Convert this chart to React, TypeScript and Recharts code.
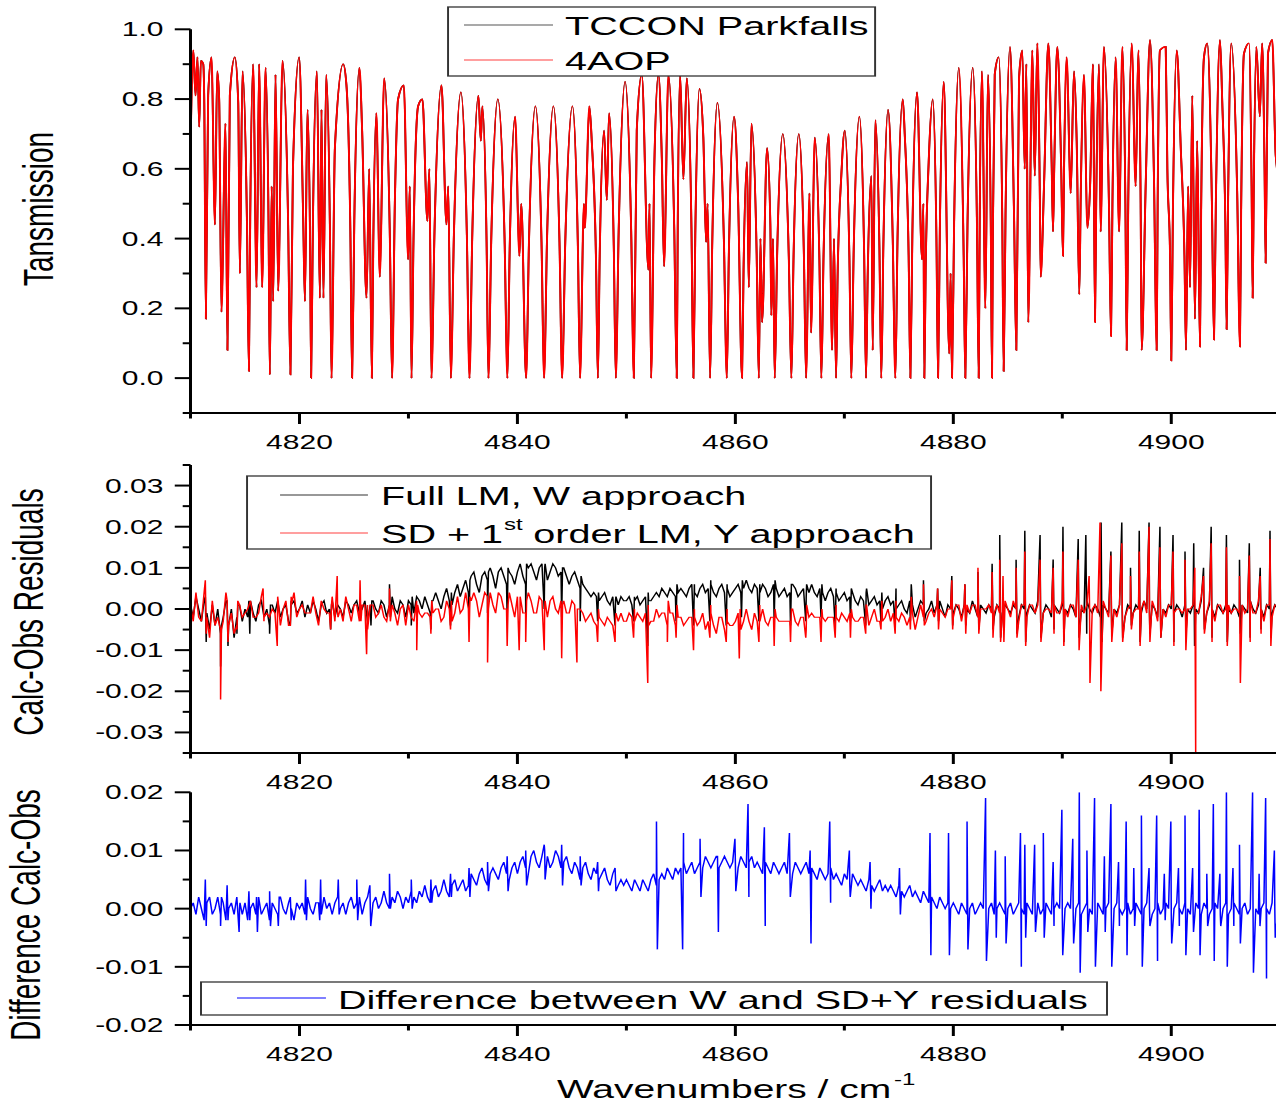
import React from 'react';
import { LineChart, Line, XAxis, YAxis } from 'recharts';

// The figure is laid out in an unstretched coordinate frame and widened
// horizontally as a whole, which keeps text, ticks and strokes consistent.
const STRETCH = 1.5;
const FRAME_W = 860;
const FRAME_H = 1104;
const AXIS_W = 127;
const RIGHT_PAD = 6.5;
const FONT = 'Liberation Sans, Arial, Helvetica, sans-serif';

// Wavenumber axis (cm-1), shared by all three panels
const WN_DOMAIN: [number, number] = [4810, 4910];
const WN_TICKS = [4810, 4820, 4830, 4840, 4850, 4860, 4870, 4880, 4890, 4900, 4910];
const WN_LABELED = [4820, 4840, 4860, 4880, 4900];

// Transmission panel axis
const TRANS_DOMAIN: [number, number] = [-0.1, 1.0];
const TRANS_TICKS = [-0.1, 0, 0.1, 0.2, 0.3, 0.4, 0.5, 0.6, 0.7, 0.8, 0.9, 1.0];
const TRANS_LABELED = [0, 0.2, 0.4, 0.6, 0.8, 1.0];

// Residual panel axis
const RES_DOMAIN: [number, number] = [-0.035, 0.035];
const RES_TICKS = [-0.035, -0.03, -0.025, -0.02, -0.015, -0.01, -0.005, 0, 0.005, 0.01, 0.015, 0.02, 0.025, 0.03, 0.035];
const RES_LABELED = [-0.03, -0.02, -0.01, 0, 0.01, 0.02, 0.03];

// Difference panel axis
const DIFF_DOMAIN: [number, number] = [-0.02, 0.02];
const DIFF_TICKS = [-0.02, -0.015, -0.01, -0.005, 0, 0.005, 0.01, 0.015, 0.02];
const DIFF_LABELED = [-0.02, -0.01, 0, 0.01, 0.02];

// 4AOP calculated transmission: [wavenumber, transmission]
const AOP_TRANS: [number, number][] = [
  [4810.00, 0.66], [4810.26, 0.94], [4810.46, 0.81], [4810.64, 0.92], [4810.80, 0.72], [4810.95, 0.91],
  [4811.17, 0.90], [4811.26, 0.80], [4811.41, 0.17], [4811.62, 0.81], [4811.93, 0.92], [4812.24, 0.44],
  [4812.45, 0.88], [4812.63, 0.80], [4812.84, 0.19], [4813.21, 0.73], [4813.39, 0.08], [4813.61, 0.81],
  [4814.07, 0.92], [4814.38, 0.79], [4814.53, 0.30], [4814.77, 0.88], [4815.18, 0.45], [4815.36, 0.02],
  [4815.48, 0.46], [4815.75, 0.90], [4816.06, 0.26], [4816.30, 0.90], [4816.58, 0.26], [4816.88, 0.89],
  [4817.16, 0.45], [4817.28, 0.01], [4817.45, 0.55], [4817.59, 0.22], [4817.80, 0.87], [4818.05, 0.25],
  [4818.44, 0.91], [4818.95, 0.46], [4819.17, 0.01], [4819.40, 0.60], [4819.97, 0.92], [4820.34, 0.46],
  [4820.50, 0.22], [4820.73, 0.77], [4820.97, 0.40], [4821.07, 0.00], [4821.23, 0.44], [4821.60, 0.88],
  [4821.87, 0.23], [4822.02, 0.77], [4822.20, 0.23], [4822.45, 0.87], [4822.79, 0.44], [4822.94, 0.00],
  [4823.25, 0.66], [4824.01, 0.90], [4824.31, 0.84], [4824.67, 0.42], [4824.83, 0.00], [4825.03, 0.45],
  [4825.50, 0.89], [4825.75, 0.71], [4826.15, 0.23], [4826.40, 0.60], [4826.64, 0.00], [4826.77, 0.38],
  [4827.06, 0.76], [4827.37, 0.29], [4827.77, 0.86], [4828.28, 0.43], [4828.50, 0.00], [4828.75, 0.50],
  [4829.05, 0.80], [4829.58, 0.84], [4829.97, 0.34], [4830.12, 0.55], [4830.28, 0.00], [4830.46, 0.39],
  [4830.89, 0.78], [4831.28, 0.80], [4831.74, 0.45], [4831.92, 0.60], [4832.11, 0.00], [4832.39, 0.42],
  [4833.03, 0.84], [4833.49, 0.44], [4833.65, 0.55], [4833.89, 0.00], [4834.17, 0.41], [4834.81, 0.82],
  [4835.36, 0.41], [4835.60, 0.00], [4835.85, 0.40], [4836.42, 0.81], [4836.64, 0.68], [4836.78, 0.78],
  [4837.17, 0.39], [4837.34, 0.00], [4837.60, 0.40], [4838.20, 0.80], [4838.82, 0.40], [4839.08, 0.00],
  [4839.29, 0.37], [4839.79, 0.75], [4840.18, 0.35], [4840.35, 0.50], [4840.80, 0.00], [4841.06, 0.39],
  [4841.65, 0.78], [4842.21, 0.39], [4842.45, 0.00], [4842.71, 0.39], [4843.30, 0.78], [4843.86, 0.39],
  [4844.10, 0.00], [4844.39, 0.39], [4845.05, 0.78], [4845.54, 0.39], [4845.75, 0.00], [4846.10, 0.50],
  [4846.18, 0.43], [4846.60, 0.78], [4846.82, 0.68], [4847.21, 0.34], [4847.38, 0.00], [4847.55, 0.35],
  [4847.95, 0.71], [4848.20, 0.51], [4848.41, 0.76], [4848.84, 0.38], [4849.03, 0.00], [4849.29, 0.42],
  [4849.88, 0.85], [4850.44, 0.42], [4850.68, 0.00], [4850.95, 0.71], [4851.41, 0.87], [4852.02, 0.31],
  [4852.12, 0.50], [4852.27, 0.00], [4852.57, 0.62], [4852.94, 0.87], [4853.25, 0.63], [4853.46, 0.32],
  [4853.85, 0.87], [4854.39, 0.43], [4854.62, 0.00], [4854.71, 0.43], [4854.93, 0.87], [4855.23, 0.57],
  [4855.54, 0.86], [4855.97, 0.43], [4856.15, 0.00], [4856.32, 0.41], [4856.70, 0.83], [4857.06, 0.69],
  [4857.31, 0.39], [4857.45, 0.50], [4857.68, 0.00], [4857.88, 0.39], [4858.35, 0.79], [4858.95, 0.39],
  [4859.21, 0.00], [4859.41, 0.37], [4859.88, 0.75], [4860.25, 0.51], [4860.61, 0.00], [4860.75, 0.31],
  [4861.07, 0.62], [4861.23, 0.26], [4861.47, 0.73], [4861.95, 0.36], [4862.15, 0.00], [4862.30, 0.40],
  [4862.45, 0.16], [4862.91, 0.66], [4863.21, 0.44], [4863.30, 0.18], [4863.45, 0.40], [4863.61, 0.00],
  [4863.83, 0.35], [4864.35, 0.70], [4864.90, 0.35], [4865.14, 0.00], [4865.34, 0.35], [4865.82, 0.70],
  [4866.29, 0.35], [4866.49, 0.00], [4866.80, 0.53], [4866.95, 0.13], [4867.28, 0.69], [4867.71, 0.34],
  [4867.89, 0.00], [4868.09, 0.35], [4868.57, 0.70], [4868.87, 0.08], [4869.05, 0.40], [4869.24, 0.00],
  [4869.38, 0.29], [4869.72, 0.58], [4870.04, 0.71], [4870.46, 0.35], [4870.64, 0.00], [4870.86, 0.37],
  [4871.38, 0.75], [4871.81, 0.37], [4871.99, 0.00], [4872.14, 0.29], [4872.48, 0.58], [4872.60, 0.08],
  [4872.84, 0.74], [4873.22, 0.37], [4873.39, 0.00], [4873.58, 0.38], [4874.01, 0.77], [4874.44, 0.40],
  [4874.68, 0.00], [4874.88, 0.40], [4875.36, 0.80], [4875.54, 0.70], [4875.90, 0.35], [4876.06, 0.00],
  [4876.24, 0.41], [4876.67, 0.82], [4877.13, 0.34], [4877.25, 0.50], [4877.34, 0.00], [4877.46, 0.31],
  [4877.74, 0.62], [4878.11, 0.80], [4878.45, 0.40], [4878.60, 0.00], [4878.76, 0.42], [4879.12, 0.85],
  [4879.63, 0.07], [4879.75, 0.30], [4879.88, 0.00], [4880.07, 0.44], [4880.50, 0.89], [4880.95, 0.35],
  [4881.10, 0.00], [4881.30, 0.44], [4881.78, 0.89], [4882.17, 0.44], [4882.33, 0.00], [4882.42, 0.44],
  [4882.63, 0.88], [4882.94, 0.20], [4883.18, 0.87], [4883.44, 0.43], [4883.55, 0.00], [4883.63, 0.43],
  [4883.80, 0.87], [4884.17, 0.92], [4884.49, 0.46], [4884.62, 0.02], [4884.79, 0.47], [4885.20, 0.95],
  [4885.57, 0.47], [4885.78, 0.08], [4886.03, 0.86], [4886.33, 0.94], [4886.55, 0.60], [4886.70, 0.90],
  [4886.88, 0.16], [4887.25, 0.94], [4887.47, 0.58], [4887.71, 0.96], [4887.93, 0.55], [4888.02, 0.29],
  [4888.32, 0.55], [4888.72, 0.96], [4889.02, 0.62], [4889.15, 0.42], [4889.27, 0.62], [4889.54, 0.95],
  [4889.90, 0.60], [4890.06, 0.35], [4890.16, 0.60], [4890.40, 0.92], [4890.77, 0.53], [4891.07, 0.88],
  [4891.32, 0.68], [4891.56, 0.24], [4891.69, 0.52], [4891.99, 0.87], [4892.30, 0.43], [4892.55, 0.55],
  [4892.82, 0.90], [4893.00, 0.16], [4893.11, 0.50], [4893.37, 0.90], [4893.52, 0.42], [4893.82, 0.95],
  [4894.28, 0.50], [4894.47, 0.12], [4894.60, 0.50], [4894.90, 0.92], [4895.21, 0.42], [4895.51, 0.95],
  [4895.79, 0.50], [4895.91, 0.08], [4896.05, 0.50], [4896.37, 0.96], [4896.73, 0.55], [4896.98, 0.94],
  [4897.19, 0.50], [4897.28, 0.08], [4897.65, 0.55], [4898.05, 0.97], [4898.41, 0.58], [4898.66, 0.08],
  [4898.75, 0.50], [4898.96, 0.94], [4899.49, 0.95], [4899.64, 0.60], [4899.89, 0.35], [4900.00, 0.05],
  [4900.15, 0.48], [4900.50, 0.94], [4900.87, 0.66], [4901.21, 0.35], [4901.35, 0.08], [4901.55, 0.55],
  [4901.72, 0.26], [4901.93, 0.81], [4902.17, 0.17], [4902.38, 0.68], [4902.63, 0.09], [4902.74, 0.48],
  [4903.00, 0.92], [4903.30, 0.96], [4903.73, 0.50], [4903.92, 0.11], [4904.09, 0.50], [4904.47, 0.97],
  [4904.68, 0.79], [4904.96, 0.45], [4905.08, 0.14], [4905.21, 0.50], [4905.50, 0.96], [4906.05, 0.53],
  [4906.30, 0.09], [4906.41, 0.48], [4906.67, 0.93], [4907.13, 0.96], [4907.37, 0.55], [4907.47, 0.23],
  [4907.57, 0.55], [4907.81, 0.95], [4908.12, 0.75], [4908.34, 0.96], [4908.56, 0.60], [4908.66, 0.33],
  [4908.87, 0.93], [4909.27, 0.97], [4909.58, 0.64], [4910.00, 0.55],
];

// Residual baselines sampled every 0.25 cm-1 from 4810, in units of 1e-3 (20 samples per row = 5 cm-1)
const RES_START = 4810;
const RES_STEP = 0.25;
// Sharp line features: [line centre, first extreme, second extreme], units of 1e-3
const SPIKE_HALF = 0.04;

// Full LM, W approach (calc - obs)
const FULL_LM_W_BASE = [
  1, -2, 3, 0, -3, 2, -1, -5, 1, -4, 0, -6, -2, 2, -4, 0, -7, -2, 1, -3,
  0, -2, 2, -1, -3, 1, 2, -2, 0, -4, 1, -1, 2, -2, 0, 1, -3, 1, 2, -1,
  0, 2, -2, 1, -1, 2, 0, -3, 1, 2, -1, 0, 2, -2, 1, 0, -2, 2, 1, -1,
  1, 2, -1, 0, 2, -3, 1, 2, 0, -1, 2, 1, -2, 1, 3, 0, -1, 2, 1, -2,
  2, 1, -1, 3, 2, 0, 3, 1, -1, 2, 4, 2, 0, 3, 5, 2, 1, 4, 6, 3,
  5, 7, 4, 8, 9, 6, 4, 8, 9, 7, 10, 8, 5, 9, 10, 8, 6, 9, 8, 6,
  9, 11, 8, 6, 10, 11, 9, 7, 10, 11, 10, 7, 9, 11, 10, 8, 9, 10, 8, 6,
  8, 9, 7, 5, 6, 5, 4, 3, 4, 3, 2, 3, 4, 2, 1, 3, 2, 1, 3, 2,
  2, 3, 1, 2, 3, 1, 2, 3, 4, 2, 3, 4, 3, 5, 4, 3, 5, 4, 3, 4,
  5, 4, 3, 5, 6, 4, 3, 5, 6, 4, 5, 6, 4, 3, 5, 6, 4, 5, 3, 4,
  5, 6, 4, 5, 7, 5, 4, 6, 5, 4, 6, 5, 3, 4, 6, 5, 3, 4, 5, 3,
  4, 6, 5, 3, 4, 5, 3, 4, 6, 4, 3, 5, 4, 2, 4, 5, 3, 4, 2, 3,
  4, 2, 3, 4, 2, 1, 3, 2, 4, 1, 2, 3, 1, 2, 0, 2, 3, 1, 2, 0,
  1, 2, 0, -1, 2, 1, -2, 0, 2, 1, -1, 0, 2, -1, 1, 2, 0, -2, 1, 0,
  -1, 1, 0, -2, 1, 0, -1, 2, 0, -2, 1, 0, -1, 1, 0, -2, 1, 0, -1, 1,
  0, -1, 1, 0, -2, 1, 0, -1, 1, 0, -1, 2, 0, -1, 1, 0, -2, 1, 0, -1,
  1, 0, -1, 1, 0, -2, 1, 0, -1, 2, 0, -1, 1, 0, -2, 1, 0, -1, 1, 0,
  -1, 1, 0, -2, 1, 0, -1, 1, 0, -1, 2, 0, -1, 1, 0, -2, 1, 0, -1, 1,
  0, -1, 1, 0, -2, 1, 0, -1, 1, 0, -1, 2, 0, -1, 1, 0, -2, 1, 0, -1,
  1, 0, -1, 1, 0, -2, 1, 0, -1, 2, 0, -1, 1, 0, -2, 1, 0, -1, 1, 0,
  0,
];
const FULL_LM_W_LINES: [number, number, number][] = [
  [4811.4, 3, -8], [4812.8, -14, -4], [4813.4, 2, -9], [4814.3, -6, 1], [4815.4, 2, -6], [4817.3, -6, 1],
  [4819.2, -4, 2], [4822.9, -5, 1], [4826.6, -4, 2], [4828.3, 6, -2], [4830.3, -4, 3], [4832.1, -5, 2],
  [4833.9, -4, 4], [4835.6, -2, 7], [4837.3, -1, 9], [4839.1, -2, 10], [4840.8, -1, 11], [4842.5, 0, 11],
  [4844.1, -2, 10], [4845.8, -3, 8], [4847.4, -3, 4], [4849.0, -4, 3], [4850.7, -3, 3], [4852.0, -9, 2],
  [4854.6, -3, 6], [4856.2, -4, 6], [4857.7, -3, 7], [4859.2, -4, 6], [4860.6, -2, 7], [4862.2, -3, 6],
  [4863.6, -3, 7], [4865.1, -4, 6], [4866.5, -3, 6], [4867.9, -2, 6], [4869.2, -4, 5], [4870.6, -3, 5],
  [4872.0, -4, 5], [4873.4, -3, 4], [4874.7, -4, 5], [4876.1, -3, 6], [4877.3, 7, -3], [4878.6, 5, -3],
  [4879.9, 8, -4], [4881.1, 6, -4], [4882.3, 9, -5], [4883.6, 11, -5], [4884.3, 18, -7], [4885.8, 12, -6],
  [4886.6, 19, -8], [4888.0, 18, -7], [4889.2, 12, -5], [4890.1, 20, -8], [4891.5, 17, -7], [4892.2, 18, -6],
  [4893.6, 21, -8], [4894.5, 14, -6], [4895.5, 21, -7], [4896.3, 10, -4], [4897.1, 19, -8], [4898.0, 21, -6],
  [4899.0, 20, -7], [4900.2, 18, -8], [4901.3, 14, -6], [4902.1, 16, -9], [4903.0, 10, -5], [4903.7, 20, -7],
  [4905.1, 18, -8], [4906.3, 12, -6], [4907.2, 16, -7], [4908.2, 10, -5], [4909.1, 19, -7],
];

// SD + 1st order LM, Y approach (calc - obs)
const SD_LM_Y_BASE = [
  1, -3, 4, -2, -3, 4, -2, -7, 2, -4, -2, -5, -3, 4, -4, -1, -6, -4, 1, -2,
  -1, 0, 2, -2, -2, -1, 3, -2, -1, -2, 0, -1, 3, -4, 0, 2, -4, 1, 4, -2,
  0, 1, -1, -1, -1, 3, -1, -4, 2, 0, -1, -1, 3, -3, -1, 0, -3, 3, 0, -3,
  1, 1, -3, 1, 1, -5, 1, 1, -2, -1, 1, -2, -3, 1, 1, -1, -4, 0, 1, -4,
  1, -2, -3, 2, -1, -2, -1, -1, -2, -1, 0, 0, -3, -2, 2, 0, -3, -1, 3, -1,
  0, 4, 0, 2, 4, 2, -2, 1, 4, 3, 4, 1, -1, 4, 3, 0, 0, 4, 1, -2,
  3, 3, -1, -1, 4, 2, -1, -1, 3, 2, 0, -2, 2, 3, 0, -1, 2, 2, -1, -1,
  2, 1, 0, 0, -1, -3, -2, -1, -3, -4, -2, -3, -4, -2, -3, -4, -2, -3, -1, -3,
  -3, -1, -2, -3, -1, -2, -3, -1, 1, -3, -3, 0, -2, -1, -1, -4, -1, -1, -4, -2,
  -2, -4, -3, -2, -2, -2, -4, -3, -1, -5, -3, -1, -4, -6, -2, -2, -5, -3, -4, -4,
  -3, -1, -5, -3, 0, -3, -5, -1, -3, -3, 0, -3, -4, -2, -2, -2, -3, -3, -3, -3,
  -3, 0, -3, -4, -2, -2, -5, -2, -1, -2, -2, -2, -2, -3, -2, -2, -2, -2, -3, -1,
  -2, -3, -1, -2, -3, -3, -2, -2, 1, -4, -2, 0, -3, -3, -3, -2, 0, -3, -1, -2,
  -3, -1, -2, -4, -2, -1, -5, -2, 1, -2, -3, -1, 0, -2, 1, 0, -1, -2, 0, 0,
  -2, 1, 1, -3, 1, 1, -1, 1, 1, -2, 0, 0, 0, 1, -1, -1, 1, -1, -1, 2,
  0, -2, 2, 0, -3, 1, 1, -2, 1, 1, -1, 1, 1, -1, 0, 0, -1, 1, -1, -1,
  2, 0, -2, 1, 1, -2, 0, 1, -1, 1, 0, 0, 1, -1, -2, 2, 0, -2, 2, 0,
  -2, 1, 1, -2, 0, 1, -1, 0, 0, 0, 2, -1, -1, 2, 0, -3, 2, 0, -2, 1,
  1, -1, 0, 0, -1, 0, 0, 0, 1, -1, -1, 3, -1, -1, 2, 0, -3, 1, 1, -1,
  0, 1, -1, 0, 0, -1, 1, -1, 0, 2, -1, -1, 2, 0, -3, 1, 1, -2, 1, 1,
  0,
];
const SD_LM_Y_LINES: [number, number, number][] = [
  [4811.4, 7, -6], [4812.8, -22, -5], [4813.4, 2, -8], [4814.3, -5, 2], [4816.7, 5, -3], [4818.0, -9, 2],
  [4819.2, -4, 3], [4822.9, -5, 1], [4823.5, 8, -2], [4825.6, 7, -3], [4826.2, -11, 1], [4828.3, 5, -3],
  [4830.8, -10, 1], [4832.1, -6, 2], [4833.9, -5, 2], [4835.6, -8, 3], [4837.3, -13, 0], [4839.1, -9, 1],
  [4840.2, -10, 0], [4840.8, -8, 2], [4842.5, -10, 2], [4844.1, -12, 1], [4845.5, -13, 0], [4847.4, -8, 0],
  [4849.0, -8, -1], [4850.7, -7, 0], [4852.0, -18, -4], [4853.8, -8, 2], [4854.6, -7, 1], [4856.2, -10, 0],
  [4857.7, -7, 1], [4859.2, -8, 0], [4860.4, -12, 0], [4862.2, -8, 1], [4863.6, -9, 0], [4865.1, -8, 0],
  [4866.5, -7, 1], [4867.9, -8, 0], [4869.2, -7, 1], [4870.6, -7, 0], [4872.0, -6, 1], [4873.4, -5, 2],
  [4874.7, -6, 2], [4876.1, -5, 3], [4877.3, 6, -4], [4878.6, 5, -5], [4879.9, 7, -5], [4881.1, 6, -6],
  [4882.3, 10, -6], [4883.6, 9, -7], [4884.3, 12, -8], [4884.6, 8, -8], [4885.8, 10, -7], [4886.6, 14, -9],
  [4888.0, 12, -8], [4889.2, 10, -6], [4890.1, 14, -9], [4891.5, 12, -10], [4892.5, 8, -18], [4893.5, 21, -20],
  [4894.5, 13, -8], [4895.5, 16, -8], [4896.3, 8, -5], [4897.1, 14, -9], [4898.0, 20, -8], [4899.0, 15, -7],
  [4900.2, 14, -9], [4901.3, 12, -10], [4902.2, 10, -35], [4903.0, 8, -6], [4903.7, 16, -8], [4905.1, 15, -9],
  [4906.3, 8, -18], [4907.2, 13, -8], [4908.2, 8, -6], [4909.1, 17, -9],
];

// Difference between the W and SD+Y residuals
const W_MINUS_SDY_BASE = [
  0, 1, -1, 2, 0, -2, 1, 2, -1, 0, 2, -1, 1, -2, 0, 1, -1, 2, 0, -1,
  1, -2, 0, 1, -1, 2, -1, 0, 1, -2, 1, 0, -1, 2, 0, -1, 1, 0, -2, 1,
  0, 1, -1, 2, 0, -1, 1, 1, -1, 2, 0, 1, -1, 1, 2, 0, 1, -1, 1, 2,
  0, 1, 2, -1, 1, 2, 0, 1, 2, 0, 1, 3, 1, 0, 2, 1, 3, 2, 0, 2,
  1, 3, 2, 1, 3, 2, 4, 2, 1, 3, 4, 2, 3, 5, 3, 2, 4, 5, 3, 4,
  5, 3, 4, 6, 5, 4, 6, 7, 5, 4, 6, 7, 6, 5, 7, 8, 6, 5, 7, 8,
  6, 8, 9, 7, 6, 9, 10, 8, 7, 9, 10, 9, 7, 8, 10, 9, 7, 8, 9, 7,
  6, 8, 7, 5, 7, 8, 6, 5, 7, 6, 5, 6, 7, 5, 4, 6, 5, 4, 5, 4,
  5, 4, 3, 5, 4, 3, 5, 4, 3, 5, 6, 4, 5, 6, 5, 7, 6, 5, 7, 6,
  7, 8, 6, 7, 8, 6, 7, 8, 7, 9, 8, 7, 8, 9, 7, 8, 9, 8, 7, 8,
  8, 7, 9, 8, 7, 8, 9, 7, 8, 7, 6, 8, 7, 6, 8, 7, 6, 7, 8, 6,
  7, 6, 8, 7, 6, 7, 8, 6, 7, 6, 5, 7, 6, 5, 6, 7, 5, 6, 5, 4,
  6, 5, 4, 6, 5, 4, 5, 4, 3, 5, 4, 3, 4, 5, 3, 4, 3, 4, 3, 2,
  4, 3, 2, 3, 4, 2, 3, 2, 1, 3, 2, 1, 2, 1, 0, 2, 1, 0, 1, 0,
  1, 0, -1, 1, 0, -1, 0, 1, -1, 0, 1, 0, -1, 0, 1, -1, 0, 1, 0, -1,
  0, 1, -1, 0, 1, 0, -1, 1, 0, -1, 0, 1, -1, 0, 1, 0, -1, 0, 1, 0,
  -1, 0, 1, 0, -1, 0, 1, -1, 0, 1, 0, -1, 0, 1, 0, -1, 0, 1, -1, 0,
  1, 0, -1, 0, 1, -1, 0, 1, 0, -1, 0, 1, 0, -1, 0, 1, -1, 0, 1, 0,
  -1, 0, 1, 0, -1, 1, 0, -1, 0, 1, 0, -1, 1, 0, -1, 0, 1, 0, -1, 0,
  1, -1, 0, 1, 0, -1, 0, 1, -1, 0, 1, 0, -1, 0, 1, 0, -1, 1, 0, -1,
  0,
];
const W_MINUS_SDY_LINES: [number, number, number][] = [
  [4811.4, 5, -3], [4812.8, -3, 2], [4813.4, 4, -2], [4814.5, -4, 1], [4815.4, 3, -2], [4816.1, 2, -4],
  [4817.3, 3, -3], [4818.1, -3, 2], [4819.2, 2, -2], [4820.6, 5, -2], [4821.9, -2, 5], [4823.6, 5, -1],
  [4825.3, 5, -2], [4826.5, 4, -3], [4828.3, 6, 0], [4830.3, 5, 0], [4832.1, 5, 1], [4833.9, 6, 2],
  [4835.6, 7, 2], [4837.3, 8, 3], [4839.1, 9, 3], [4840.8, 10, 4], [4842.5, 11, 5], [4844.1, 11, 4],
  [4845.8, 9, 4], [4847.4, 8, 3], [4849.0, 7, 3], [4852.8, 15, -7], [4855.2, -7, 13], [4856.8, 12, 2],
  [4858.4, 9, -4], [4860.0, 12, 3], [4861.2, 18, 2], [4862.7, 14, -3], [4865.0, 13, 2], [4866.9, 10, -6],
  [4868.7, 15, 1], [4870.5, 10, 2], [4872.4, 8, 0], [4875.1, 7, -1], [4877.9, 13, -8], [4879.6, 13, -8],
  [4881.3, 15, -7], [4883.0, 19, -9], [4883.9, 10, -5], [4884.8, 9, -6], [4886.2, 13, -10], [4886.6, 11, -5],
  [4887.5, 11, -4], [4888.3, 13, -5], [4889.2, 8, -3], [4890.0, 17, -8], [4891.0, 12, -6], [4891.6, 20, -11],
  [4892.3, 10, -4], [4893.0, 19, -10], [4893.9, 9, -4], [4894.5, 18, -10], [4895.2, 8, -3], [4895.9, 15, -8],
  [4896.6, 7, -3], [4897.3, 16, -10], [4898.0, 7, -3], [4898.7, 16, -9], [4899.4, 6, -2], [4900.0, 15, -6],
  [4900.7, 7, -3], [4901.3, 16, -8], [4902.0, 7, -4], [4902.6, 17, -8], [4903.3, 6, -3], [4903.9, 18, -9],
  [4904.5, 6, -3], [4905.1, 20, -10], [4905.7, 7, -3], [4906.3, 11, -6], [4907.5, 20, -11], [4908.1, 6, -3],
  [4908.7, 19, -12], [4909.5, 10, -5],
];

// Merge a sampled baseline with its sharp line features into one ordered series
const buildSeries = (base: number[], lines: [number, number, number][]) => {
  const pts = base.map((v, i) => ({ wn: RES_START + i * RES_STEP, v: v / 1000 }));
  lines.forEach(([wn, a, b]) => {
    pts.push({ wn: wn - SPIKE_HALF, v: a / 1000 }, { wn: wn + SPIKE_HALF, v: b / 1000 });
  });
  return pts.sort((p, q) => p.wn - q.wn);
};

const transData = AOP_TRANS.map(([wn, t]) => ({ wn, obs: t, calc: t }));
const fullLmSeries = buildSeries(FULL_LM_W_BASE, FULL_LM_W_LINES);
const sdLmSeries = buildSeries(SD_LM_Y_BASE, SD_LM_Y_LINES);
const diffSeries = buildSeries(W_MINUS_SDY_BASE, W_MINUS_SDY_LINES);

const near = (list: number[], v: number) => list.some((m) => Math.abs(m - v) < 1e-9);

const makeXTick = (labeled: number[]) => (props: any) => {
  const { x, y, payload } = props;
  const major = near(labeled, payload.value);
  return (
    <g>
      <line x1={x} y1={y} x2={x} y2={y + (major ? 11 : 5.5)} stroke="#000" strokeWidth={2} />
      {major && (
        <text x={x} y={y + 36} textAnchor="middle" fontSize={20} fontFamily={FONT} fill="#000">
          {payload.value}
        </text>
      )}
    </g>
  );
};

const makeYTick = (labeled: number[], digits: number) => (props: any) => {
  const { x, y, payload } = props;
  const major = near(labeled, payload.value);
  return (
    <g>
      <line x1={x} y1={y} x2={x - (major ? 10.5 : 5.2)} y2={y} stroke="#000" strokeWidth={2} />
      {major && (
        <text x={x - 18} y={y} dy="0.35em" textAnchor="end" fontSize={20} fontFamily={FONT} fill="#000">
          {Number(payload.value).toFixed(digits)}
        </text>
      )}
    </g>
  );
};

const axisLine = { stroke: '#000', strokeWidth: 2 };

const xAxisProps = (height: number) => ({
  type: 'number' as const,
  dataKey: 'wn',
  domain: WN_DOMAIN,
  ticks: WN_TICKS,
  interval: 0 as const,
  allowDataOverflow: true,
  tickLine: false,
  tickSize: 0,
  tickMargin: 0,
  axisLine,
  height,
  tick: makeXTick(WN_LABELED),
});

const yAxisProps = (domain: [number, number], ticks: number[], labeled: number[], digits: number) => ({
  type: 'number' as const,
  domain,
  ticks,
  interval: 0 as const,
  allowDataOverflow: true,
  tickLine: false,
  tickSize: 0,
  tickMargin: 0,
  axisLine,
  width: AXIS_W,
  tick: makeYTick(labeled, digits),
});

const LegendBox = ({ x, y, w, h, children }: any) => (
  <g>
    <rect x={x} y={y} width={w} height={h} fill="#fff" stroke="#333" strokeWidth={1.3} />
    {children}
  </g>
);

const legendText = { fontSize: 26.4, fontFamily: FONT, fill: '#000' };
const titleText = { fontSize: 28, fontFamily: FONT, fill: '#000', textAnchor: 'middle' as const };

export default function App() {
  return (
    <div style={{ position: 'fixed', left: 0, top: 0, width: 1276, height: FRAME_H, overflow: 'hidden', background: '#fff' }}>
      <div
        style={{
          position: 'absolute',
          left: 0,
          top: 0,
          width: FRAME_W,
          height: FRAME_H,
          transform: `scaleX(${STRETCH})`,
          transformOrigin: '0 0',
        }}
      >
        {/* Transmission panel */}
        <div style={{ position: 'absolute', left: 0, top: 0 }}>
          <LineChart width={FRAME_W} height={460} data={transData} margin={{ top: 29.3, right: RIGHT_PAD, bottom: 0, left: 0 }}>
            <XAxis {...xAxisProps(47)} />
            <YAxis {...yAxisProps(TRANS_DOMAIN, TRANS_TICKS, TRANS_LABELED, 1)} />
            <Line type="monotone" dataKey="obs" stroke="#000" strokeWidth={1.2} dot={false} isAnimationActive={false} />
            <Line type="monotone" dataKey="calc" stroke="#ff0000" strokeWidth={1.3} dot={false} isAnimationActive={false} />
          </LineChart>
        </div>

        {/* Residual panel */}
        <div style={{ position: 'absolute', left: 0, top: 440 }}>
          <LineChart width={FRAME_W} height={360} margin={{ top: 25, right: RIGHT_PAD, bottom: 0, left: 0 }}>
            <XAxis {...xAxisProps(47)} />
            <YAxis {...yAxisProps(RES_DOMAIN, RES_TICKS, RES_LABELED, 2)} />
            <Line data={fullLmSeries} type="linear" dataKey="v" stroke="#000" strokeWidth={1} dot={false} isAnimationActive={false} />
            <Line data={sdLmSeries} type="linear" dataKey="v" stroke="#ff0000" strokeWidth={1} dot={false} isAnimationActive={false} />
          </LineChart>
        </div>

        {/* Difference panel */}
        <div style={{ position: 'absolute', left: 0, top: 770 }}>
          <LineChart width={FRAME_W} height={334} margin={{ top: 22.3, right: RIGHT_PAD, bottom: 0, left: 0 }}>
            <XAxis {...xAxisProps(79)} />
            <YAxis {...yAxisProps(DIFF_DOMAIN, DIFF_TICKS, DIFF_LABELED, 2)} />
            <Line data={diffSeries} type="linear" dataKey="v" stroke="#0000ff" strokeWidth={1} dot={false} isAnimationActive={false} />
          </LineChart>
        </div>

        {/* Titles and legends */}
        <svg style={{ position: 'absolute', left: 0, top: 0 }} width={FRAME_W} height={FRAME_H}>
          <text transform="translate(35,209) rotate(-90)" {...titleText}>Tansmission</text>
          <text transform="translate(28.7,612) rotate(-90)" {...titleText}>Calc-Obs Residuals</text>
          <text transform="translate(26.7,915) rotate(-90)" {...titleText}>Difference Calc-Obs</text>
          <text x={371.3} y={1098} fontSize={26} fontFamily={FONT} fill="#000">Wavenumbers / cm</text>
          <text x={596} y={1085} fontSize={16} fontFamily={FONT} fill="#000">-1</text>

          <LegendBox x={298.7} y={7} w={284.7} h={69}>
            <line x1={309.3} y1={25} x2={368.7} y2={25} stroke="#555" strokeWidth={1} />
            <line x1={309.3} y1={60} x2={368.7} y2={60} stroke="#ff4040" strokeWidth={1} />
            <text x={376.7} y={35} {...legendText}>TCCON Parkfalls</text>
            <text x={376.7} y={70} {...legendText}>4AOP</text>
          </LegendBox>

          <LegendBox x={164.7} y={476} w={456} h={73}>
            <line x1={186.7} y1={495} x2={245.3} y2={495} stroke="#333" strokeWidth={1} />
            <line x1={186.7} y1={533} x2={245.3} y2={533} stroke="#ff4040" strokeWidth={1} />
            <text x={254} y={505} {...legendText}>Full LM, W approach</text>
            <text x={254} y={543} {...legendText}>SD + 1</text>
            <text x={336} y={530} fontSize={16} fontFamily={FONT} fill="#000">st</text>
            <text x={355.5} y={543} {...legendText}>order LM, Y approach</text>
          </LegendBox>

          <LegendBox x={134} y={982} w={604} h={33}>
            <line x1={158} y1={998} x2={217.3} y2={998} stroke="#0000ff" strokeWidth={1} />
            <text x={225.3} y={1009} {...legendText}>Difference between W and SD+Y residuals</text>
          </LegendBox>
        </svg>
      </div>
    </div>
  );
}
